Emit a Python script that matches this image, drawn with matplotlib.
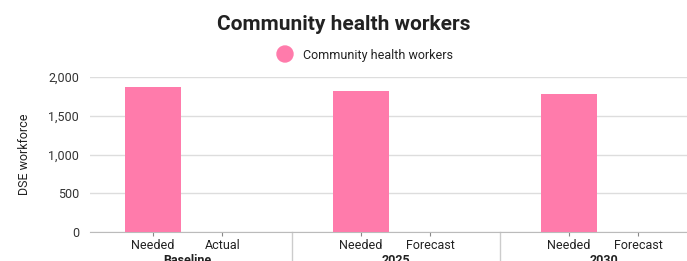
import matplotlib
matplotlib.use('Agg')
import matplotlib.pyplot as plt
from matplotlib.transforms import blended_transform_factory

groups = ['Baseline', '2025', '2030']
categories = [['Needed', 'Actual'], ['Needed', 'Forecast'], ['Needed', 'Forecast']]
values = [[1870, 0], [1820, 0], [1780, 0]]
series_name = 'Community health workers'
yticks = [0, 500, 1000, 1500, 2000]

pink = '#ff7bab'
plt.rcParams['font.family'] = ['Roboto', 'DejaVu Sans']

fig = plt.figure(figsize=(6.87, 2.61), dpi=100)
ax = fig.add_axes([90 / 687, 1 - 232 / 261, 1 - 90 / 687, 155 / 261])

xs, labels, vals = [], [], []
for i, (cats, vs) in enumerate(zip(categories, values)):
    for j, (c, v) in enumerate(zip(cats, vs)):
        xs.append(3 * i + j)
        labels.append(c)
        vals.append(v)

ax.bar(xs, vals, width=0.81, color=pink, zorder=3)
ax.set_xlim(-0.91, 7.7)
ax.set_ylim(0, 2000)
ax.set_yticks(yticks)
ax.set_yticklabels([f'{t:,}' for t in yticks], fontsize=9, color='#333333')
ax.set_xticks(xs)
ax.set_xticklabels(labels, fontsize=9, color='#222222')
ax.tick_params(axis='y', length=0, pad=8)
ax.tick_params(axis='x', length=3, color='#888888', pad=2)
ax.grid(axis='y', color='#dddddd', linewidth=1, zorder=0)
for s in ['top', 'right', 'left']:
    ax.spines[s].set_visible(False)
ax.spines['bottom'].set_color('#bbbbbb')

ax.set_ylabel('DSE workforce', fontsize=9, color='#222222', labelpad=12)

trans = blended_transform_factory(ax.transData, ax.transAxes)
for i, g in enumerate(groups):
    ax.text(3 * i + 0.5, -0.145, g, transform=trans, ha='center', va='top',
            fontsize=9, fontweight='bold', color='#222222')
    if i > 0:
        ax.plot([3 * i - 1, 3 * i - 1], [0, -0.25], transform=trans, color='#cccccc',
                linewidth=1, clip_on=False)

fig.text(0.5, 1 - 25 / 261, 'Community health workers', ha='center', va='center',
         fontsize=15, fontweight='bold', color='#222222')
fig.patches.append(matplotlib.patches.Ellipse((285 / 687, 1 - 54 / 261), 16 / 687, 16 / 261,
                                              transform=fig.transFigure, color=pink))
fig.text(303 / 687, 1 - 55 / 261, series_name, ha='left', va='center',
         fontsize=9, color='#222222')

fig.savefig('out.png', dpi=100)
